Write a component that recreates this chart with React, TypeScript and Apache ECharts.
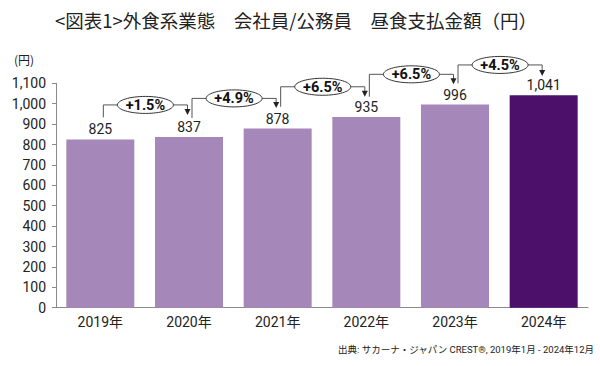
import React, { useEffect, useRef } from "react";
import * as echarts from "echarts";

const categories = ["2019年", "2020年", "2021年", "2022年", "2023年", "2024年"];
const values = [825, 837, 878, 935, 996, 1041];
const growthLabels = ["+1.5%", "+4.9%", "+6.5%", "+6.5%", "+4.5%"];
// connector levels in data units (start above bar i, horizontal level, arrow tip above bar i+1)
const connectorStart = [933, 930, 985, 1034, 1100];
const connectorLevel = [994, 1026, 1083, 1144, 1190];
const connectorEnd = [945, 979, 1034, 1095, 1136];
const yTicks = [0, 100, 200, 300, 400, 500, 600, 700, 800, 900, 1000, 1100];

const NUM_FONT = "Roboto, 'Noto Sans CJK JP', sans-serif";
const JP_FONT = "'Noto Sans CJK JP', sans-serif";

export default function App() {
  const ref = useRef<HTMLDivElement>(null);
  useEffect(() => {
    if (!ref.current) return;
    const chart = echarts.init(ref.current, undefined, { renderer: "svg" });
    const connectorData = growthLabels.map((_, i) => [i, connectorStart[i], connectorLevel[i], connectorEnd[i]]);
    chart.setOption({
      animation: false,
      backgroundColor: "#ffffff",
      title: {
        text: "<図表1>外食系業態　会社員/公務員　昼食支払金額（円）",
        left: 291,
        textAlign: "center",
        top: 6,
        textStyle: { fontFamily: JP_FONT, fontSize: 18.5, fontWeight: "normal", color: "#222" },
      },
      graphic: [
        {
          type: "text",
          left: 14,
          top: 53,
          style: { text: "(円)", fontFamily: JP_FONT, fontSize: 12, fill: "#222" },
        },
        {
          type: "text",
          right: 6,
          top: 345,
          style: {
            text: "出典: サカーナ・ジャパン CREST®, 2019年1月 - 2024年12月",
            fontFamily: NUM_FONT,
            fontSize: 9.5,
            fill: "#222",
          },
        },
      ],
      grid: { left: 56, right: 12, top: 83.3, bottom: 58.3 },
      xAxis: {
        type: "category",
        data: categories,
        axisLine: { lineStyle: { color: "#8a8a8a", width: 1 } },
        axisTick: { show: false },
        axisLabel: { fontFamily: NUM_FONT, fontSize: 14, color: "#222", margin: 7 },
      },
      yAxis: {
        type: "value",
        min: 0,
        max: yTicks[yTicks.length - 1],
        interval: 100,
        splitLine: { show: false },
        axisLine: { show: true, lineStyle: { color: "#8a8a8a", width: 1 } },
        axisTick: { show: true, length: 4, lineStyle: { color: "#8a8a8a" } },
        axisLabel: {
          fontFamily: NUM_FONT,
          fontSize: 14,
          color: "#222",
          margin: 10,
          formatter: (v: number) => v.toLocaleString("en-US"),
        },
      },
      series: [
        {
          type: "bar",
          data: values.map((v, i) => ({
            value: v,
            itemStyle: { color: i === values.length - 1 ? "#4d106a" : "#a687ba" },
          })),
          barWidth: 68,
          label: {
            show: true,
            position: "top",
            distance: 3,
            fontFamily: NUM_FONT,
            fontSize: 14,
            color: "#222",
            formatter: (p: any) => Number(p.value).toLocaleString("en-US"),
          },
        },
        {
          type: "custom",
          clip: false,
          z: 5,
          encode: { x: 0, y: [1, 2, 3] },
          data: connectorData,
          renderItem: (params: any, api: any) => {
            const i = api.value(0);
            const ps = api.coord([i, api.value(1)]);
            const pl = api.coord([i, api.value(2)]);
            const pe = api.coord([i + 1, api.value(3)]);
            const x0 = ps[0] + 3;
            const y0 = ps[1];
            const yl = pl[1];
            const x1 = pe[0] - 1.5;
            const y1 = pe[1];
            const cx = (x0 + x1) / 2;
            const lineColor = "#555";
            return {
              type: "group",
              children: [
                {
                  type: "polyline",
                  shape: { points: [[x0, y0], [x0, yl], [x1, yl], [x1, y1 - 5]] },
                  style: { stroke: lineColor, lineWidth: 1, fill: null },
                },
                {
                  type: "polygon",
                  shape: { points: [[x1 - 3, y1 - 6], [x1 + 3, y1 - 6], [x1, y1]] },
                  style: { fill: "#222" },
                },
                {
                  type: "ellipse",
                  shape: { cx, cy: yl, rx: 28, ry: 8.5 },
                  style: { fill: "#fff", stroke: "#333", lineWidth: 1 },
                },
                {
                  type: "text",
                  style: {
                    text: growthLabels[params.dataIndex],
                    x: cx,
                    y: yl + 0.5,
                    align: "center",
                    verticalAlign: "middle",
                    fontFamily: NUM_FONT,
                    fontSize: 14.5,
                    fontWeight: "bold",
                    fill: "#111",
                  },
                },
              ],
            };
          },
        },
      ],
    });
    return () => chart.dispose();
  }, []);
  return <div ref={ref} style={{ width: 600, height: 366, position: "absolute", left: 0, top: 0 }} />;
}
